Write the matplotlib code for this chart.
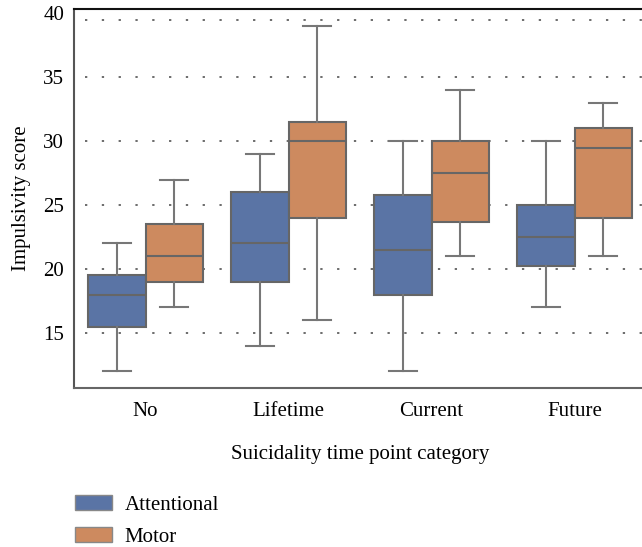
import matplotlib
matplotlib.use("Agg")
import matplotlib.pyplot as plt
from matplotlib.patches import Patch

categories = ["No", "Lifetime", "Current", "Future"]
series = ["Attentional", "Motor"]
colors = ["#5a74a5", "#cd8a5f"]

# per series: [whislo, q1, med, q3, whishi] for each category
attentional = [
    [12, 15.5, 18, 19.5, 22],
    [14, 19, 22, 26, 29],
    [12, 18, 21.5, 25.8, 30],
    [17, 20.2, 22.5, 25, 30],
]
motor = [
    [17, 19, 21, 23.5, 27],
    [16, 24, 30, 31.5, 39],
    [21, 23.7, 27.5, 30, 34],
    [21, 24, 29.5, 31, 33],
]
yticks = [15, 20, 25, 30, 35, 40]

plt.rcParams['font.family'] = ['Liberation Serif', 'DejaVu Serif']
FS = 15

fig = plt.figure(figsize=(6.42, 5.47), dpi=100)
W, H = 642, 547
left, right, top, bottom = 74, 642, 9, 388
ax = fig.add_axes([left / W, 1 - bottom / H, (right - left) / W, (bottom - top) / H])

edge = "#666666"
box_w = 0.4
for si, (data, col) in enumerate(zip([attentional, motor], colors)):
    stats = []
    for v in data:
        stats.append(dict(whislo=v[0], q1=v[1], med=v[2], q3=v[3], whishi=v[4], fliers=[]))
    pos = [i + (si - 0.5) * box_w for i in range(len(categories))]
    ax.bxp(stats, positions=pos, widths=box_w, capwidths=box_w / 2, patch_artist=True,
           showfliers=False,
           boxprops=dict(facecolor=col, edgecolor=edge, linewidth=1.5),
           medianprops=dict(color=edge, linewidth=1.5),
           whiskerprops=dict(color="#777777", linewidth=1.5),
           capprops=dict(color="#777777", linewidth=1.5),
           zorder=3)

ax.set_xlim(-0.5, 3.472)
ax.set_ylim(10.7, 40.33)
ax.set_xticks(range(len(categories)))
ax.set_xticklabels(categories, fontsize=FS)
ax.set_yticks(yticks)
ax.set_yticklabels([str(t) for t in yticks], fontsize=FS)
ax.tick_params(length=0, pad=7)
ax.tick_params(axis='x', pad=10)

for t in [15, 20, 25, 30, 35, 39.5]:
    ax.axhline(t, xmin=0.02, xmax=1, color="#444444", linewidth=1.1,
               linestyle=(0, (1.5, 9.5)), zorder=1)

ax.spines["right"].set_visible(False)
ax.spines["top"].set_color("#111111")
ax.spines["top"].set_linewidth(1.5)
ax.spines["left"].set_color("#555555")
ax.spines["left"].set_linewidth(1.5)
ax.spines["bottom"].set_color("#666666")
ax.spines["bottom"].set_linewidth(1.5)

ax.set_ylabel("Impulsivity score", fontsize=FS, labelpad=9)
fig.text(360 / W, 1 - 455 / H, "Suicidality time point category", fontsize=FS,
         ha="center", va="center")

handles = [Patch(facecolor=c, edgecolor="#888888", label=l) for c, l in zip(colors, series)]
fig.legend(handles=handles, loc="upper left", bbox_to_anchor=(65 / W, 1 - 485 / H),
           frameon=False, fontsize=FS, handlelength=1.75, handleheight=0.7,
           handletextpad=0.6, labelspacing=0.6, borderaxespad=0, borderpad=0.5)

fig.savefig("out.png", dpi=100)
